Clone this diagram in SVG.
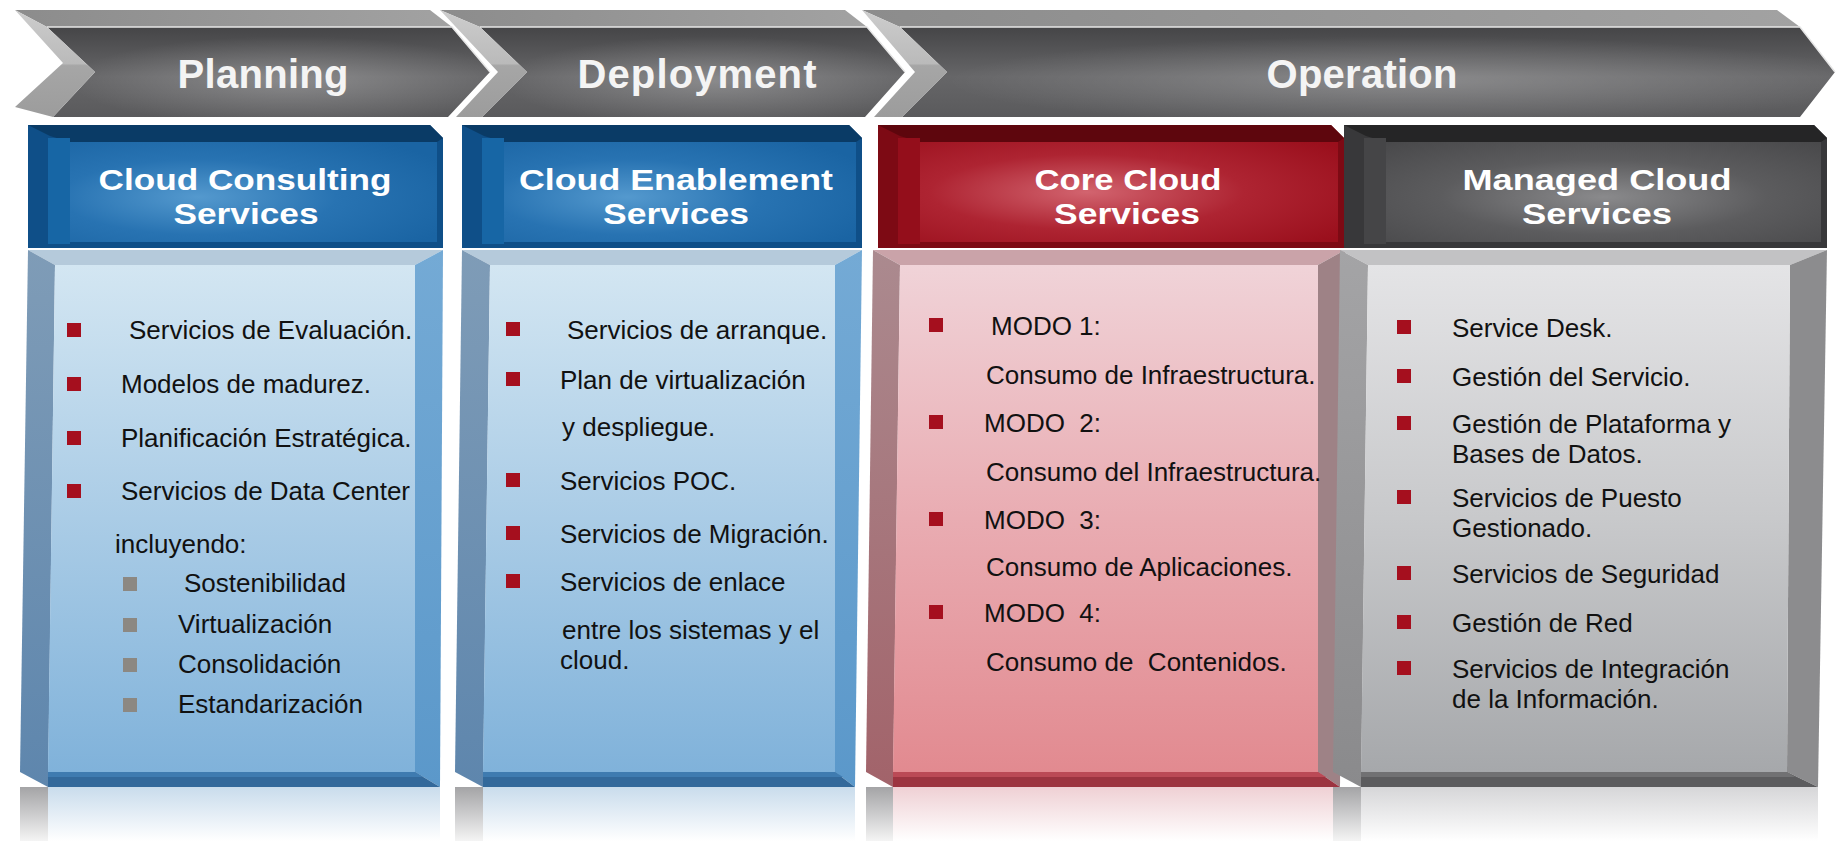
<svg xmlns="http://www.w3.org/2000/svg" width="1836" height="841" viewBox="0 0 1836 841">
<defs>
<style>
.phase{font-family:"Liberation Sans",Arial,sans-serif;font-size:40px;font-weight:bold;fill:#f4f4f4;text-anchor:middle}
.hdr{font-family:"Liberation Sans",Arial,sans-serif;font-size:30px;font-weight:bold;fill:#ffffff;text-anchor:middle}
.item{font-family:"Liberation Sans",Arial,sans-serif;font-size:26px;fill:#111111}
.rb{fill:#a50f1e}
.gb{fill:#8c8882}
.ctop{fill:url(#chevTop)}
.cface{fill:url(#chevFace)}
.chi{fill:url(#chevHi)}
.cnotch{fill:url(#notch)}
.cline{stroke:#e6e6e6;stroke-width:1.5;fill:none}
</style>
<linearGradient id="chevTop" x1="0" y1="0" x2="1" y2="0"><stop offset="0" stop-color="#8c8c8c"/><stop offset="1" stop-color="#a2a2a2"/></linearGradient>
<linearGradient id="chevFace" x1="0" y1="0" x2="0" y2="1"><stop offset="0" stop-color="#454547"/><stop offset="0.55" stop-color="#666668"/><stop offset="1" stop-color="#5a5a5c"/></linearGradient>
<radialGradient id="chevHi" cx="0.55" cy="0.6" r="0.5"><stop offset="0" stop-color="#ffffff" stop-opacity="0.24"/><stop offset="1" stop-color="#ffffff" stop-opacity="0"/></radialGradient>
<linearGradient id="notch" x1="0" y1="0" x2="0" y2="1"><stop offset="0" stop-color="#cdcdcd"/><stop offset="0.5" stop-color="#bababa"/><stop offset="0.52" stop-color="#a6a6a6"/><stop offset="1" stop-color="#9c9c9c"/></linearGradient>
<radialGradient id="hBlue" cx="0.35" cy="0.55" r="0.75"><stop offset="0" stop-color="#5499ce"/><stop offset="0.5" stop-color="#2873b2"/><stop offset="1" stop-color="#1a64a3"/></radialGradient>
<radialGradient id="hRed" cx="0.4" cy="0.5" r="0.75"><stop offset="0" stop-color="#d2646f"/><stop offset="0.5" stop-color="#ae2432"/><stop offset="1" stop-color="#9a0f1c"/></radialGradient>
<radialGradient id="hGray" cx="0.5" cy="0.55" r="0.75"><stop offset="0" stop-color="#8a8a8c"/><stop offset="0.5" stop-color="#5c5c5e"/><stop offset="1" stop-color="#48484a"/></radialGradient>
<linearGradient id="pBlue" x1="0" y1="0" x2="0" y2="1"><stop offset="0" stop-color="#d3e6f2"/><stop offset="0.5" stop-color="#aacce6"/><stop offset="1" stop-color="#80b2da"/></linearGradient>
<linearGradient id="pRed" x1="0" y1="0" x2="0" y2="1"><stop offset="0" stop-color="#f0d3d8"/><stop offset="0.5" stop-color="#e9acb2"/><stop offset="1" stop-color="#e28a90"/></linearGradient>
<linearGradient id="pGray" x1="0" y1="0" x2="0" y2="1"><stop offset="0" stop-color="#e4e4e6"/><stop offset="0.5" stop-color="#c8c9cb"/><stop offset="1" stop-color="#a6a8ab"/></linearGradient>
<linearGradient id="sBlue" x1="0" y1="0" x2="0" y2="1"><stop offset="0" stop-color="#7f9cb7"/><stop offset="1" stop-color="#5e86ad"/></linearGradient>
<linearGradient id="sBlueR" x1="0" y1="0" x2="0" y2="1"><stop offset="0" stop-color="#74aad5"/><stop offset="1" stop-color="#5b98ca"/></linearGradient>
<linearGradient id="sRed" x1="0" y1="0" x2="0" y2="1"><stop offset="0" stop-color="#ab8a8f"/><stop offset="1" stop-color="#a2636a"/></linearGradient>
<linearGradient id="sGray" x1="0" y1="0" x2="0" y2="1"><stop offset="0" stop-color="#a4a4a6"/><stop offset="1" stop-color="#8a8a8c"/></linearGradient>
<linearGradient id="rBlue" x1="0" y1="0" x2="0" y2="1"><stop offset="0" stop-color="#c9dcec"/><stop offset="1" stop-color="#ffffff"/></linearGradient>
<linearGradient id="rRed" x1="0" y1="0" x2="0" y2="1"><stop offset="0" stop-color="#efd0d4"/><stop offset="1" stop-color="#ffffff"/></linearGradient>
<linearGradient id="rGray" x1="0" y1="0" x2="0" y2="1"><stop offset="0" stop-color="#d6d6d8"/><stop offset="1" stop-color="#ffffff"/></linearGradient>
<linearGradient id="rSide" x1="0" y1="0" x2="0" y2="1"><stop offset="0" stop-color="#a4a4a6"/><stop offset="1" stop-color="#f4f4f4"/></linearGradient>
</defs>
<rect width="1836" height="841" fill="#ffffff"/>

<!-- Phase chevrons -->
<g id="phase-planning">
<polygon class="ctop" points="15,10 430,10 452,27 47,27"/>
<polygon class="cface" points="47,27 452,27 490,72 448,117 53,117 95,72"/>
<polygon class="chi" points="47,27 452,27 490,72 448,117 53,117 95,72"/>
<polygon class="cnotch" points="15,10 47,27 95,72 53,117 15,107 63,63"/>
<polyline class="cline" points="47,27 452,27 490,72"/>
<text class="phase" x="263" y="88" textLength="171">Planning</text>
</g>
<g id="phase-deployment">
<polygon class="ctop" points="440,10 845,10 867,27 480,27"/>
<polygon class="cface" points="480,27 867,27 905,72 865,117 482,117 527,72"/>
<polygon class="chi" points="480,27 867,27 905,72 865,117 482,117 527,72"/>
<polygon class="cnotch" points="440,10 480,27 527,72 482,117 456,117 498,72"/>
<polyline class="cline" points="480,27 867,27 905,72"/>
<text class="phase" x="697" y="88" textLength="239">Deployment</text>
</g>
<g id="phase-operation">
<polygon class="ctop" points="862,10 1777,10 1800,27 900,27"/>
<polygon class="cface" points="900,27 1800,27 1835,72 1800,117 902,117 947,72"/>
<polygon class="chi" points="900,27 1800,27 1835,72 1800,117 902,117 947,72"/>
<polygon class="cnotch" points="862,10 900,27 947,72 902,117 874,117 915,72"/>
<polyline class="cline" points="900,27 1800,27 1835,72"/>
<text class="phase" x="1362" y="88" textLength="191">Operation</text>
</g>

<!-- Header boxes -->
<g id="hdr-consulting">
<polygon points="28,125 430,125 443,138 443,248 28,248" fill="#0f4f88"/>
<polygon points="28,125 430,125 443,138 437,142 70,142 50,136" fill="#0a3b66"/>
<rect x="48" y="138" width="22" height="106" fill="#1766a5"/>
<rect x="70" y="142" width="367" height="100" fill="url(#hBlue)"/>
<text class="hdr" x="245" y="190" textLength="293" lengthAdjust="spacingAndGlyphs">Cloud Consulting</text>
<text class="hdr" x="246" y="224" textLength="145" lengthAdjust="spacingAndGlyphs">Services</text>
</g>
<g id="hdr-enablement">
<polygon points="462,125 849,125 862,138 862,248 462,248" fill="#0f4f88"/>
<polygon points="462,125 849,125 862,138 856,142 504,142 484,136" fill="#0a3b66"/>
<rect x="482" y="138" width="22" height="106" fill="#1766a5"/>
<rect x="504" y="142" width="352" height="100" fill="url(#hBlue)"/>
<text class="hdr" x="676" y="190" textLength="314" lengthAdjust="spacingAndGlyphs">Cloud Enablement</text>
<text class="hdr" x="676" y="224" textLength="146" lengthAdjust="spacingAndGlyphs">Services</text>
</g>
<g id="hdr-core">
<polygon points="878,125 1331,125 1344,138 1344,248 878,248" fill="#7d0a14"/>
<polygon points="878,125 1331,125 1344,138 1338,142 920,142 900,136" fill="#5e060d"/>
<rect x="898" y="138" width="22" height="106" fill="#940e1b"/>
<rect x="920" y="142" width="418" height="100" fill="url(#hRed)"/>
<text class="hdr" x="1128" y="190" textLength="187" lengthAdjust="spacingAndGlyphs">Core Cloud</text>
<text class="hdr" x="1127" y="224" textLength="146" lengthAdjust="spacingAndGlyphs">Services</text>
</g>
<g id="hdr-managed">
<polygon points="1344,125 1814,125 1827,138 1827,248 1344,248" fill="#38383a"/>
<polygon points="1344,125 1814,125 1827,138 1821,142 1386,142 1366,136" fill="#252526"/>
<rect x="1364" y="138" width="22" height="106" fill="#454547"/>
<rect x="1386" y="142" width="435" height="100" fill="url(#hGray)"/>
<text class="hdr" x="1597" y="190" textLength="269" lengthAdjust="spacingAndGlyphs">Managed Cloud</text>
<text class="hdr" x="1597" y="224" textLength="150" lengthAdjust="spacingAndGlyphs">Services</text>
</g>

<!-- Panels -->
<g id="panel-consulting">
<polygon points="20,787 48,787 48,841 20,841" fill="url(#rSide)"/>
<rect x="48" y="787" width="392" height="54" fill="url(#rBlue)"/>
<polygon points="28,250 443,250 415,265 55,265" fill="#b5cadb"/>
<polygon points="28,250 55,265 48,787 20,772" fill="url(#sBlue)"/>
<polygon points="443,250 440,787 415,772 415,265" fill="url(#sBlueR)"/>
<polygon points="55,265 415,265 415,772 48,772" fill="url(#pBlue)"/>
<polygon points="48,772 415,772 440,787 48,787" fill="#33699b"/>
<polygon points="48,772 415,772 423,777 48,777" fill="#3f7bb0"/>
<rect class="rb" x="67" y="323" width="14" height="14"/>
<text class="item" x="129" y="339">Servicios de Evaluación.</text>
<rect class="rb" x="67" y="377" width="14" height="14"/>
<text class="item" x="121" y="393">Modelos de madurez.</text>
<rect class="rb" x="67" y="431" width="14" height="14"/>
<text class="item" x="121" y="447">Planificación Estratégica.</text>
<rect class="rb" x="67" y="484" width="14" height="14"/>
<text class="item" x="121" y="500">Servicios de Data Center</text>
<text class="item" x="115" y="553">incluyendo:</text>
<rect class="gb" x="123" y="577" width="14" height="14"/>
<text class="item" x="184" y="592">Sostenibilidad</text>
<rect class="gb" x="123" y="618" width="14" height="14"/>
<text class="item" x="178" y="633">Virtualización</text>
<rect class="gb" x="123" y="658" width="14" height="14"/>
<text class="item" x="178" y="673">Consolidación</text>
<rect class="gb" x="123" y="698" width="14" height="14"/>
<text class="item" x="178" y="713">Estandarización</text>
</g>

<g id="panel-enablement">
<polygon points="455,787 483,787 483,841 455,841" fill="url(#rSide)"/>
<rect x="483" y="787" width="372" height="54" fill="url(#rBlue)"/>
<polygon points="462,250 862,250 835,265 490,265" fill="#b5cadb"/>
<polygon points="462,250 490,265 483,787 455,772" fill="url(#sBlue)"/>
<polygon points="862,250 855,787 835,772 835,265" fill="url(#sBlueR)"/>
<polygon points="490,265 835,265 835,772 483,772" fill="url(#pBlue)"/>
<polygon points="483,772 835,772 855,787 483,787" fill="#33699b"/>
<polygon points="483,772 835,772 843,777 483,777" fill="#3f7bb0"/>
<rect class="rb" x="506" y="322" width="14" height="14"/>
<text class="item" x="567" y="339">Servicios de arranque.</text>
<rect class="rb" x="506" y="372" width="14" height="14"/>
<text class="item" x="560" y="389">Plan de virtualización</text>
<text class="item" x="562" y="436">y despliegue.</text>
<rect class="rb" x="506" y="473" width="14" height="14"/>
<text class="item" x="560" y="490">Servicios POC.</text>
<rect class="rb" x="506" y="526" width="14" height="14"/>
<text class="item" x="560" y="543">Servicios de Migración.</text>
<rect class="rb" x="506" y="574" width="14" height="14"/>
<text class="item" x="560" y="591">Servicios de enlace</text>
<text class="item" x="562" y="639">entre los sistemas y el</text>
<text class="item" x="560" y="669">cloud.</text>
</g>

<g id="panel-core">
<polygon points="866,787 893,787 893,841 866,841" fill="url(#rSide)"/>
<rect x="893" y="787" width="447" height="54" fill="url(#rRed)"/>
<polygon points="873,250 1345,250 1318,265 900,265" fill="#caa3a9"/>
<polygon points="873,250 900,265 893,787 866,772" fill="url(#sRed)"/>
<polygon points="1345,250 1340,787 1318,772 1318,265" fill="#9e8286"/>
<polygon points="900,265 1318,265 1318,772 893,772" fill="url(#pRed)"/>
<polygon points="893,772 1318,772 1340,787 893,787" fill="#9c3440"/>
<polygon points="893,772 1318,772 1326,777 893,777" fill="#bb4a56"/>
<rect class="rb" x="929" y="318" width="14" height="14"/>
<text class="item" x="991" y="335">MODO 1:</text>
<text class="item" x="986" y="384">Consumo de Infraestructura.</text>
<rect class="rb" x="929" y="415" width="14" height="14"/>
<text class="item" x="984" y="432" xml:space="preserve">MODO  2:</text>
<text class="item" x="986" y="481">Consumo del Infraestructura.</text>
<rect class="rb" x="929" y="512" width="14" height="14"/>
<text class="item" x="984" y="529" xml:space="preserve">MODO  3:</text>
<text class="item" x="986" y="576">Consumo de Aplicaciones.</text>
<rect class="rb" x="929" y="605" width="14" height="14"/>
<text class="item" x="984" y="622" xml:space="preserve">MODO  4:</text>
<text class="item" x="986" y="671" xml:space="preserve">Consumo de  Contenidos.</text>
</g>

<g id="panel-managed">
<polygon points="1333,787 1361,787 1361,841 1333,841" fill="url(#rSide)"/>
<rect x="1361" y="787" width="457" height="54" fill="url(#rGray)"/>
<polygon points="1340,250 1827,250 1790,265 1368,265" fill="#c2c2c4"/>
<polygon points="1340,250 1368,265 1361,787 1333,772" fill="url(#sGray)"/>
<polygon points="1827,250 1818,787 1787,772 1790,265" fill="#8c8c8e"/>
<polygon points="1368,265 1790,265 1787,772 1361,772" fill="url(#pGray)"/>
<polygon points="1361,772 1787,772 1818,787 1361,787" fill="#5c5c5e"/>
<polygon points="1361,772 1787,772 1795,777 1361,777" fill="#717173"/>
<rect class="rb" x="1397" y="320" width="14" height="14"/>
<text class="item" x="1452" y="337">Service Desk.</text>
<rect class="rb" x="1397" y="369" width="14" height="14"/>
<text class="item" x="1452" y="386">Gestión del Servicio.</text>
<rect class="rb" x="1397" y="416" width="14" height="14"/>
<text class="item" x="1452" y="433">Gestión de Plataforma y</text>
<text class="item" x="1452" y="463">Bases de Datos.</text>
<rect class="rb" x="1397" y="490" width="14" height="14"/>
<text class="item" x="1452" y="507">Servicios de Puesto</text>
<text class="item" x="1452" y="537">Gestionado.</text>
<rect class="rb" x="1397" y="566" width="14" height="14"/>
<text class="item" x="1452" y="583">Servicios de Seguridad</text>
<rect class="rb" x="1397" y="615" width="14" height="14"/>
<text class="item" x="1452" y="632">Gestión de Red</text>
<rect class="rb" x="1397" y="661" width="14" height="14"/>
<text class="item" x="1452" y="678">Servicios de Integración</text>
<text class="item" x="1452" y="708">de la Información.</text>
</g>

<g id="connectors"/>
</svg>
